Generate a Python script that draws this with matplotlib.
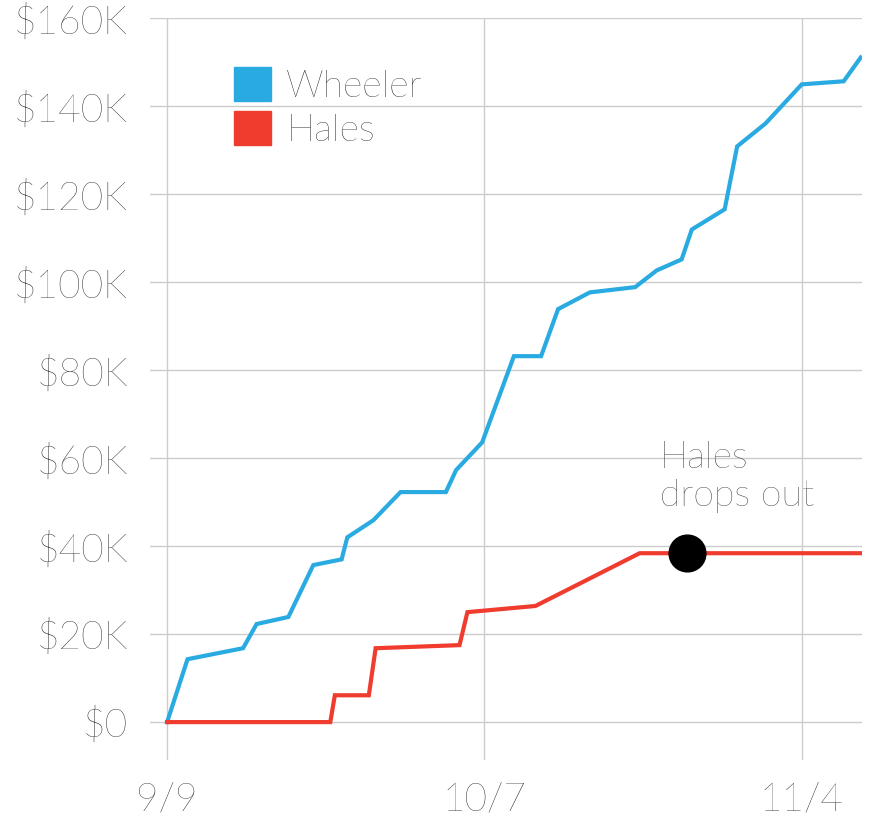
"""Wheeler vs Hales cumulative fundraising."""

import matplotlib.pyplot as plt
from matplotlib.patches import Patch

plt.rcParams["font.family"] = "Lato"
plt.rcParams["font.weight"] = "light"

# days since 9/9, amounts in $K
wheeler_days = [0, 1.8, 6.7, 7.9, 10.7, 12.9, 15.4, 15.9, 18.2, 20.6, 24.6, 25.5, 27.8,
                30.6, 33.0, 34.5, 37.3, 41.3, 43.2, 45.4, 46.3, 49.2, 50.3, 52.8, 56.0,
                59.7, 61.2]
wheeler_k = [0, 14.3, 16.8, 22.3, 23.9, 35.7, 37.0, 42.0, 45.9, 52.3, 52.3, 57.3, 63.6,
             83.2, 83.2, 93.9, 97.7, 98.9, 102.7, 105.2, 112.0, 116.6, 130.9, 136.1, 145.0,
             145.7, 151.1]
hales_days = [0, 14.4, 14.8, 17.8, 18.4, 25.8, 26.5, 32.5, 41.7, 61.2]
hales_k = [0, 0, 6.1, 6.1, 16.8, 17.5, 25.0, 26.4, 38.4, 38.4]
dropout_day, dropout_k = 45.9, 38.4

x_ticks = [0, 28, 56]
x_labels = ["9/9", "10/7", "11/4"]
y_ticks = [0, 20, 40, 60, 80, 100, 120, 140, 160]
y_labels = ["$0"] + [f"${v}K" for v in y_ticks[1:]]

blue = "#29abe2"
red = "#f03c2e"

fig = plt.figure(figsize=(8.83, 8.36), dpi=100)
ax = fig.add_axes([0.170, 0.091, 0.806, 0.887])

ax.plot(wheeler_days, wheeler_k, color=blue, lw=3, solid_joinstyle="miter", zorder=3)
ax.plot(hales_days, hales_k, color=red, lw=3, solid_joinstyle="miter", zorder=3)
ax.scatter([dropout_day], [dropout_k], s=700, color="black", zorder=4)
ax.text(43.5, 47.5, "Hales\ndrops out", fontsize=27, ha="left", va="bottom",
        linespacing=1.15, color="#111111")

ax.set_xlim(-1.5, 61.3)
ax.set_ylim(-8.6, 160)
ax.set_xticks(x_ticks, x_labels)
ax.set_yticks(y_ticks, y_labels)
ax.tick_params(length=0, labelsize=28, colors="#111111")
ax.tick_params(axis="x", pad=16)
ax.tick_params(axis="y", pad=16)
ax.grid(color="#cccccc", lw=1)
ax.set_axisbelow(True)
for s in ax.spines.values():
    s.set_visible(False)

handles = [Patch(color=blue, label="Wheeler"), Patch(color=red, label="Hales")]
ax.legend(handles=handles, loc="upper left", bbox_to_anchor=(0.07, 0.98), frameon=False,
          fontsize=27, handlelength=1.0, handleheight=1.0, handletextpad=0.4,
          labelspacing=0.2)

fig.savefig("out.png", dpi=100)
